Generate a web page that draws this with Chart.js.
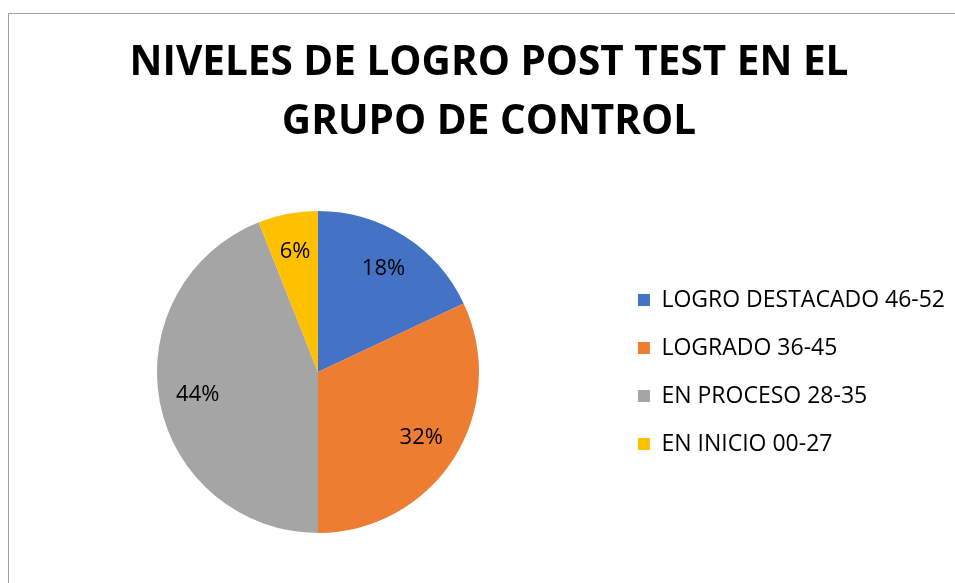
<!DOCTYPE html>
<html>
<head>
<meta charset="utf-8">
<script src="https://cdn.jsdelivr.net/npm/chart.js@4"></script>
<style>
html,body{margin:0;padding:0;background:#fff;overflow:hidden;}
#frame{position:absolute;left:8px;top:13px;width:1000px;height:1000px;border:1px solid #a0a0a0;box-sizing:border-box;}
#wrap{position:absolute;left:0;top:0;width:955px;height:583px;}
</style>
</head>
<body>
<div id="frame"></div>
<div id="wrap"><canvas id="c" width="955" height="583"></canvas></div>
<script>
const titleLines = ['NIVELES DE LOGRO POST TEST EN EL', 'GRUPO DE CONTROL'];
const categories = ['LOGRO DESTACADO 46-52', 'LOGRADO 36-45', 'EN PROCESO 28-35', 'EN INICIO 00-27'];
const percentages = [18, 32, 44, 6];
const colors = ['#4472C4', '#ED7D31', '#A5A5A5', '#FFC000'];

const pctLabels = {
  id: 'pctLabels',
  afterDatasetsDraw(chart) {
    const ctx = chart.ctx;
    const meta = chart.getDatasetMeta(0);
    ctx.save();
    ctx.font = '22px "Open Sans"';
    ctx.fillStyle = '#000';
    ctx.textAlign = 'center';
    ctx.textBaseline = 'middle';
    meta.data.forEach((arc, i) => {
      const p = arc.getProps(['x','y','startAngle','endAngle','outerRadius'], true);
      const a = (p.startAngle + p.endAngle) / 2;
      const r = p.outerRadius * 0.76;
      ctx.fillText(chart.data.datasets[0].data[i] + '%', p.x + Math.cos(a) * r, p.y + Math.sin(a) * r);
    });
    ctx.restore();
  }
};

new Chart(document.getElementById('c'), {
  type: 'pie',
  data: {
    labels: categories,
    datasets: [{ data: percentages, backgroundColor: colors, borderWidth: 0 }]
  },
  options: {
    responsive: false,
    animation: false,
    layout: { padding: { left: 23, right: 0, top: 0, bottom: 50 } },
    plugins: {
      title: {
        display: true,
        text: titleLines,
        color: '#000',
        font: { family: '"Open Sans"', size: 40.5, weight: 'bold', lineHeight: 59/40.5 },
        padding: { top: 34, bottom: 59 }
      },
      legend: {
        position: 'right',
        fullSize: false,
        labels: {
          color: '#000',
          font: { family: '"Open Sans"', size: 23 },
          boxWidth: 12, boxHeight: 12, padding: 25
        }
      },
      tooltip: { enabled: false }
    }
  },
  plugins: [pctLabels]
});
</script>
</body>
</html>
